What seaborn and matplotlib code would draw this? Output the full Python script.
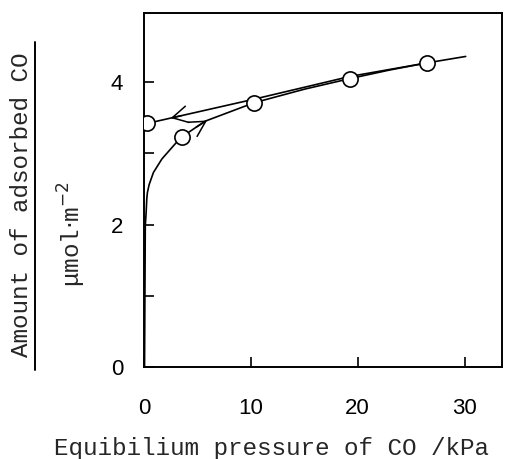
import numpy as np
import pandas as pd
import matplotlib
matplotlib.use("Agg")
import matplotlib.pyplot as plt
import seaborn as sns

# adsorption branch (curve, increasing pressure)
ads_x = [0.05, 0.12, 0.2, 0.26, 0.32, 0.48, 0.88, 1.67, 2.9, 3.54, 5.7, 10.3, 15.0, 19.3, 23.0, 26.5, 30.1]
ads_y = [0.0, 1.98, 2.17, 2.36, 2.45, 2.56, 2.73, 2.92, 3.13, 3.23, 3.45, 3.71, 3.90, 4.05, 4.17, 4.27, 4.36]
# desorption branch (decreasing pressure)
des_x = [26.5, 19.3, 10.3, 0.3]
des_y = [4.27, 4.08, 3.76, 3.42]
# measured points
pt_x = [0.3, 3.54, 10.3, 19.3, 26.5]
pt_y = [3.42, 3.23, 3.71, 4.05, 4.27]
# arrow positions (x) and directions
arrow_ads_x = 5.9
arrow_des_x = 2.5

xticks = [0, 10, 20, 30]
yticks = [0, 1, 2, 3, 4]
ytick_labels = ["0", "", "2", "", "4"]

sns.set_style("ticks")
plt.rcParams["font.family"] = ["Liberation Sans", "DejaVu Sans"]

fig = plt.figure(figsize=(5.07, 4.59), dpi=100)
ax = fig.add_axes([144/507, 1-367/459, (502-144)/507, (367-13)/459])

ads = pd.DataFrame({"x": ads_x, "y": ads_y})
des = pd.DataFrame({"x": des_x, "y": des_y})
pts = pd.DataFrame({"x": pt_x, "y": pt_y})

sns.lineplot(data=ads, x="x", y="y", ax=ax, color="black", lw=1.2, sort=False, estimator=None)
sns.lineplot(data=des, x="x", y="y", ax=ax, color="black", lw=1.2, sort=False, estimator=None)
sns.scatterplot(data=pts, x="x", y="y", ax=ax, s=120, facecolor="white", edgecolor="black",
                linewidth=1.2, zorder=5)

# arrowheads along the branches
def arrow(xs, ys, x0, direction):
    order = np.argsort(xs)
    xs_s = np.asarray(xs)[order]; ys_s = np.asarray(ys)[order]
    y0 = np.interp(x0, xs_s, ys_s)
    dx = 1.0 * direction
    y1 = np.interp(x0 + dx, xs_s, ys_s)
    ax.annotate("", xy=(x0 + dx, y1), xytext=(x0, y0),
                arrowprops=dict(arrowstyle="->,head_length=0.55,head_width=0.3", color="black", lw=1.1,
                                mutation_scale=20, shrinkA=0, shrinkB=0))

arrow(ads_x, ads_y, arrow_ads_x - 1.0, +1)
arrow(des_x, des_y, arrow_des_x + 1.0, -1)

ax.set_xlim(0, 33.5)
ax.set_ylim(0, 4.97)
ax.set_xticks(xticks)
ax.set_yticks(yticks)
ax.set_yticklabels(ytick_labels)
ax.tick_params(direction="in", length=7, width=1.2, labelsize=16, colors="black")
ax.tick_params(axis="y", pad=15)
ax.tick_params(axis="x", pad=22)
for s in ax.spines.values():
    s.set_visible(True)
    s.set_linewidth(1.4)
    s.set_color("black")
ax.set_xlabel("")
ax.set_ylabel("")

mono = "Liberation Mono"
fig.text(271/507, 1-448/459, "Equibilium pressure of CO /kPa", family=mono, fontsize=17.5,
         ha="center", va="center")
fig.text(22/507, 1-205/459, "Amount of adsorbed CO", family=mono, fontsize=17.5,
         rotation=90, ha="center", va="center")
fig.add_artist(plt.Line2D([35/507, 35/507], [1-42/459, 1-370/459], color="black", lw=1.4))
fig.text(72/507, 1-234/459, r"$\mathregular{\mu}$mol$\cdot$m$^{-2}$", family=mono, fontsize=17.5,
         rotation=90, ha="center", va="center")

fig.savefig("out.png", dpi=100)
